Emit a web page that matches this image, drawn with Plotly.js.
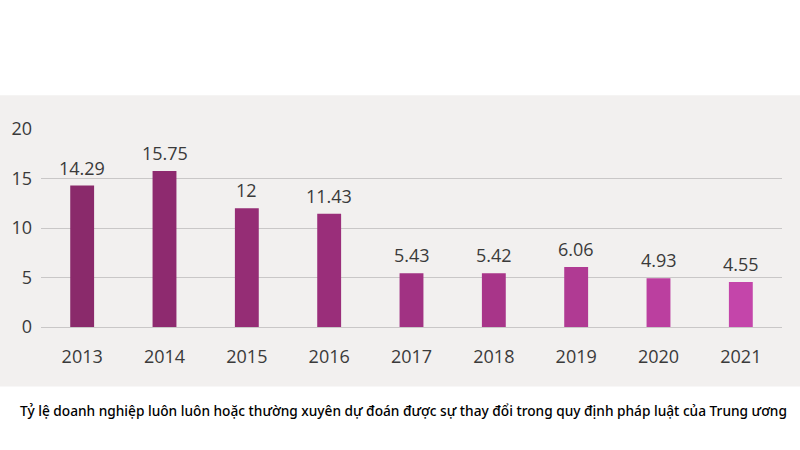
<!DOCTYPE html>
<html>
<head>
<meta charset="utf-8">
<script src="https://cdn.plot.ly/plotly-3.0.1.min.js"></script>
<style>html,body{margin:0;padding:0;background:#fff;}#chart{width:800px;height:450px;}</style>
</head>
<body>
<div id="chart"></div>
<script>
const years = ['2013','2014','2015','2016','2017','2018','2019','2020','2021'];
const values = [14.29, 15.75, 12, 11.43, 5.43, 5.42, 6.06, 4.93, 4.55];
const valueLabels = ['14.29','15.75','12','11.43','5.43','5.42','6.06','4.93','4.55'];
const barColors = ['#8a2a6b','#8e2a6f','#952d75','#9a2e7a','#a13283','#a83589','#b03a93','#bb3f9f','#c445aa'];
const yTicks = [0, 5, 10, 15, 20];
const caption = 'Tỷ lệ doanh nghiệp luôn luôn hoặc thường xuyên dự đoán được sự thay đổi trong quy định pháp luật của Trung ương';

const W = 800, H = 450;
const plotTop = 129, plotBottom = 327;

const annotations = years.map((y, i) => ({
  x: i, y: values[i], xref: 'x', yref: 'y',
  text: valueLabels[i], showarrow: false,
  yanchor: 'bottom', yshift: 4,
  font: {family: 'Open Sans, sans-serif', size: 18, color: '#3a3a3a'}
}));
annotations.push({
  xref: 'paper', yref: 'paper', x: 0.489, y: -0.42,
  xanchor: 'center', yanchor: 'middle', showarrow: false,
  text: caption,
  font: {family: 'Noto Sans, sans-serif', size: 13.7, color: '#000', weight: 500}
});

const trace = {
  type: 'bar', x: years, y: values,
  marker: {color: barColors},
  width: 0.29, hoverinfo: 'skip'
};

const layout = {
  width: W, height: H,
  margin: {l: 41, r: 18, t: plotTop, b: H - plotBottom},
  paper_bgcolor: '#ffffff',
  plot_bgcolor: 'rgba(0,0,0,0)',
  showlegend: false,
  xaxis: {
    type: 'category', range: [-0.5, years.length - 0.5],
    showgrid: false, zeroline: false, showline: false,
    ticks: '', ticklen: 0, ticklabelstandoff: 17,
    tickfont: {family: 'Open Sans, sans-serif', size: 18, color: '#3a3a3a'},
    automargin: false
  },
  yaxis: {
    range: [0, 20], tickvals: yTicks, ticktext: yTicks.map(String),
    showgrid: true, gridcolor: '#c9c7c7', gridwidth: 1,
    zeroline: true, zerolinecolor: '#c9c7c7', zerolinewidth: 1,
    showline: false, ticks: '', ticklabelstandoff: 8,
    tickfont: {family: 'Open Sans, sans-serif', size: 18, color: '#3a3a3a'},
    automargin: false, fixedrange: true
  },
  shapes: [{
    type: 'rect', xref: 'paper', yref: 'paper', layer: 'below',
    x0: -0.06, x1: 1.03, y0: -0.3, y1: 1.17,
    fillcolor: '#f2f0ef', line: {width: 0}
  }],
  annotations: annotations
};

Plotly.newPlot('chart', [trace], layout, {displayModeBar: false, staticPlot: true});
</script>
</body>
</html>
